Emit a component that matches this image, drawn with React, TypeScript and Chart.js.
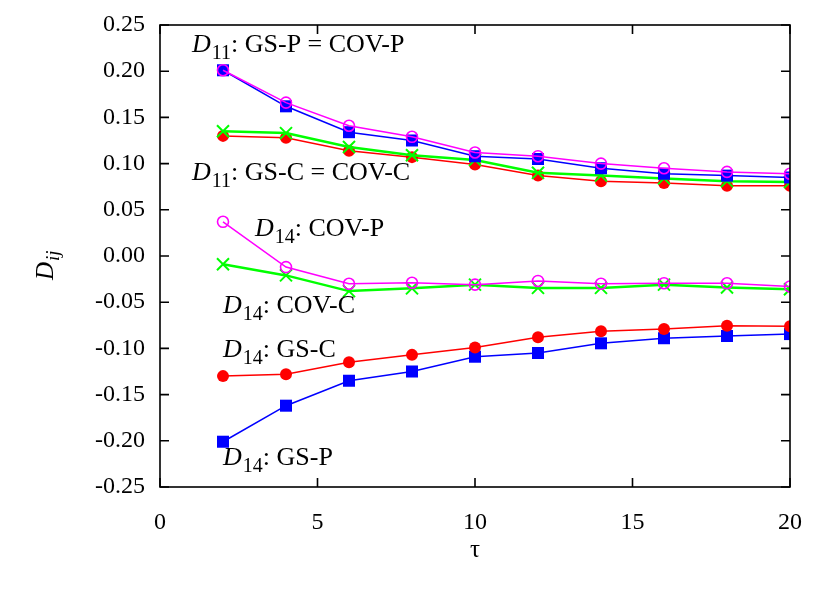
import React, { useEffect, useRef } from "react";
import { Chart, registerables } from "chart.js";

Chart.register(...registerables);

const tau = [2, 4, 6, 8, 10, 12, 14, 16, 18, 20];

const d11GsP = [0.201, 0.162, 0.134, 0.125, 0.108, 0.105, 0.095, 0.089, 0.087, 0.085];
const d11CovP = [0.201, 0.166, 0.141, 0.129, 0.112, 0.108, 0.100, 0.095, 0.091, 0.089];
const d11GsC = [0.130, 0.128, 0.114, 0.107, 0.099, 0.087, 0.081, 0.079, 0.076, 0.076];
const d11CovC = [0.135, 0.133, 0.118, 0.109, 0.104, 0.090, 0.087, 0.084, 0.081, 0.080];

const d14GsP = [-0.201, -0.162, -0.135, -0.125, -0.109, -0.105, -0.0945, -0.089, -0.0866, -0.0845];
const d14CovP = [0.037, -0.012, -0.030, -0.029, -0.031, -0.027, -0.030, -0.0295, -0.0295, -0.033];
const d14GsC = [-0.130, -0.128, -0.115, -0.107, -0.099, -0.088, -0.0815, -0.079, -0.0755, -0.076];
const d14CovC = [-0.009, -0.021, -0.038, -0.035, -0.031, -0.0345, -0.0345, -0.031, -0.034, -0.036];

const xTicks = [0, 5, 10, 15, 20];
const yTicks = [-0.25, -0.2, -0.15, -0.1, -0.05, 0, 0.05, 0.1, 0.15, 0.2, 0.25];

const annotations = [
  { x: 2, y: 0.2211, sub: "11", text: ": GS-P = COV-P", dx: -31 },
  { x: 2, y: 0.0823, sub: "11", text: ": GS-C = COV-C", dx: -31 },
  { x: 2, y: 0.0216, sub: "14", text: ": COV-P", dx: 32 },
  { x: 2, y: -0.0617, sub: "14", text: ": COV-C", dx: 0 },
  { x: 2, y: -0.1093, sub: "14", text: ": GS-C", dx: 0 },
  { x: 2, y: -0.2262, sub: "14", text: ": GS-P", dx: 0 },
];

const RED = "#ff0000";
const BLUE = "#0000ff";
const MAGENTA = "#ff00ff";
const GREEN = "#00ff00";
const SERIF = "'Liberation Serif', 'DejaVu Serif', serif";

function pts(ys: number[]) {
  return tau.map((x, i) => ({ x, y: ys[i] }));
}

function ds(label: string, ys: number[], color: string, kind: string) {
  const base: any = {
    label,
    data: pts(ys),
    showLine: true,
    borderColor: color,
    backgroundColor: color,
    borderWidth: 1.5,
    pointBorderColor: color,
    pointBackgroundColor: color,
  };
  if (kind === "square") {
    base.pointStyle = "rect";
    base.pointRadius = 8.5;
    base.pointBorderWidth = 0;
  } else if (kind === "dot") {
    base.pointStyle = "circle";
    base.pointRadius = 6;
    base.pointBorderWidth = 0;
  } else if (kind === "ring") {
    base.pointStyle = "circle";
    base.pointRadius = 5.5;
    base.pointBorderWidth = 1.6;
    base.pointBackgroundColor = "rgba(0,0,0,0)";
  } else {
    base.pointStyle = "crossRot";
    base.pointRadius = 8.5;
    base.pointBorderWidth = 2;
    base.borderWidth = 2.5;
  }
  return base;
}

const framePlugin = {
  id: "framePlugin",
  afterDraw(chart: any) {
    const ctx = chart.ctx as CanvasRenderingContext2D;
    const area = chart.chartArea;
    const xs = chart.scales.x;
    const ys = chart.scales.y;
    ctx.save();
    ctx.strokeStyle = "#000";
    ctx.lineWidth = 1.6;
    ctx.strokeRect(area.left, area.top, area.right - area.left, area.bottom - area.top);
    const tl = 9;
    ctx.beginPath();
    for (const v of xTicks) {
      const px = xs.getPixelForValue(v);
      ctx.moveTo(px, area.bottom);
      ctx.lineTo(px, area.bottom - tl);
      ctx.moveTo(px, area.top);
      ctx.lineTo(px, area.top + tl);
    }
    for (const v of yTicks) {
      const py = ys.getPixelForValue(v);
      ctx.moveTo(area.left, py);
      ctx.lineTo(area.left + tl, py);
      ctx.moveTo(area.right, py);
      ctx.lineTo(area.right - tl, py);
    }
    ctx.stroke();

    ctx.fillStyle = "#000";
    ctx.textBaseline = "alphabetic";
    ctx.textAlign = "left";
    for (const a of annotations) {
      let px = xs.getPixelForValue(a.x) + a.dx;
      const py = ys.getPixelForValue(a.y);
      ctx.font = `italic 26px ${SERIF}`;
      ctx.fillText("D", px, py);
      px += ctx.measureText("D").width + 1;
      ctx.font = `20px ${SERIF}`;
      ctx.fillText(a.sub, px, py + 7);
      px += ctx.measureText(a.sub).width;
      ctx.font = `26px ${SERIF}`;
      ctx.fillText(a.text, px, py);
    }

    // y axis title D_ij
    ctx.save();
    ctx.translate(53, 280);
    ctx.rotate(-Math.PI / 2);
    ctx.font = `italic 25px ${SERIF}`;
    const wD = ctx.measureText("D").width;
    ctx.fillText("D", 0, 0);
    ctx.font = `italic 19px ${SERIF}`;
    ctx.fillText("ij", wD + 1, 6);
    ctx.restore();

    // x axis title tau
    ctx.font = `25px ${SERIF}`;
    ctx.textAlign = "center";
    ctx.fillText("\u03c4", (area.left + area.right) / 2, 557);
    ctx.restore();
  },
};

export default function App() {
  const ref = useRef<HTMLCanvasElement | null>(null);
  useEffect(() => {
    document.body.style.margin = "0";
    const canvas = ref.current!;
    const chart = new Chart(canvas, {
      type: "scatter",
      data: {
        datasets: [
          ds("D11 COV-P", d11CovP, MAGENTA, "ring"),
          ds("D11 GS-P", d11GsP, BLUE, "square"),
          ds("D11 COV-C", d11CovC, GREEN, "cross"),
          ds("D11 GS-C", d11GsC, RED, "dot"),
          ds("D14 COV-P", d14CovP, MAGENTA, "ring"),
          ds("D14 COV-C", d14CovC, GREEN, "cross"),
          ds("D14 GS-C", d14GsC, RED, "dot"),
          ds("D14 GS-P", d14GsP, BLUE, "square"),
        ],
      },
      options: {
        responsive: false,
        animation: false,
        layout: { padding: { top: 25, right: 40, left: 0, bottom: 0 } },
        plugins: { legend: { display: false }, tooltip: { enabled: false } },
        scales: {
          x: {
            type: "linear",
            min: 0,
            max: 20,
            afterFit: (s: any) => {
              s.height = 106;
              s.paddingLeft = 0;
              s.paddingRight = 0;
            },
            afterBuildTicks: (s: any) => {
              s.ticks = xTicks.map((v) => ({ value: v }));
            },
            grid: { display: false, drawTicks: false },
            border: { display: false },
            ticks: {
              padding: 21,
              color: "#000",
              font: { family: SERIF, size: 24 },
              maxRotation: 0,
              callback: (v: any) => String(v),
            },
          },
          y: {
            type: "linear",
            min: -0.25,
            max: 0.25,
            afterFit: (s: any) => {
              s.width = 160;
              s.paddingTop = 0;
              s.paddingBottom = 0;
            },
            afterBuildTicks: (s: any) => {
              s.ticks = yTicks.map((v) => ({ value: v }));
            },
            grid: { display: false, drawTicks: false },
            border: { display: false },
            ticks: {
              padding: 15,
              color: "#000",
              font: { family: SERIF, size: 24 },
              callback: (v: any) => {
                const n = Number(v);
                return Math.abs(n) < 1e-9 ? "0.00" : n.toFixed(2);
              },
            },
          },
        },
      },
      plugins: [framePlugin],
    });
    return () => chart.destroy();
  }, []);
  return (
    <div style={{ width: 830, height: 593, background: "#fff" }}>
      <canvas ref={ref} width={830} height={593} style={{ display: "block" }} />
    </div>
  );
}
